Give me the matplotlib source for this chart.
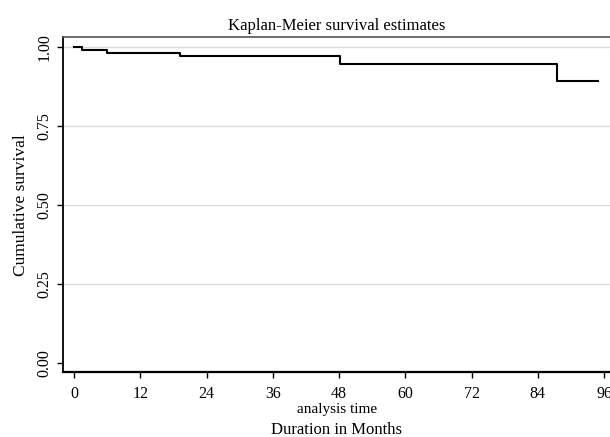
import matplotlib
matplotlib.use("Agg")
import matplotlib.pyplot as plt

# Data (Kaplan-Meier step function)
times = [0, 1.4, 5.9, 19.2, 48.1, 87.5, 94.9]
survival = [1.000, 0.990, 0.983, 0.973, 0.948, 0.893, 0.893]
x_ticks = [0, 12, 24, 36, 48, 60, 72, 84, 96]
y_ticks = [0.00, 0.25, 0.50, 0.75, 1.00]
y_tick_labels = ["0.00", "0.25", "0.50", "0.75", "1.00"]

plt.rcParams['font.family'] = ['Liberation Serif', 'DejaVu Serif']

W, H = 610, 437
fig = plt.figure(figsize=(6.1, 4.37), dpi=100)
left, right, top, bottom = 63.3, 612, 37, 372.3
ax = fig.add_axes([left / W, 1 - bottom / H, (right - left) / W, (bottom - top) / H])

ax.step(times, survival, where='post', color='black', lw=1.5)

ax.set_xlim(-1.95, 97.45)
ax.set_ylim(-0.0305, 1.0326)
ax.set_xticks(x_ticks)
ax.set_yticks(y_ticks)
ax.set_yticklabels(y_tick_labels, rotation=90, va='center')
ax.tick_params(axis='x', labelsize=11.5, length=4.3, width=1, color='black', direction='out', pad=5.5)
ax.tick_params(axis='y', labelsize=11.5, length=4.0, width=1, color='black', direction='out', pad=4)
for y in [0.25, 0.50, 0.75, 1.00]:
    ax.axhline(y, color='#dcdcdc', lw=1, zorder=0)

ax.spines['right'].set_visible(False)
ax.spines['left'].set_linewidth(1.3)
ax.spines['bottom'].set_linewidth(1.6)
ax.spines['top'].set_color('#555555')
ax.spines['top'].set_linewidth(1.2)

cx = (left + 610) / 2 / W
fig.text(cx, 1 - 30 / H, "Kaplan-Meier survival estimates", ha='center', va='baseline', fontsize=12)
ax.set_ylabel("Cumulative survival", fontsize=12.5, labelpad=5)
fig.text(cx, 1 - 413 / H, "analysis time", ha='center', va='baseline', fontsize=11)
fig.text(cx, 1 - 434.5 / H, "Duration in Months", ha='center', va='baseline', fontsize=12)

fig.savefig("out.png", dpi=100)
